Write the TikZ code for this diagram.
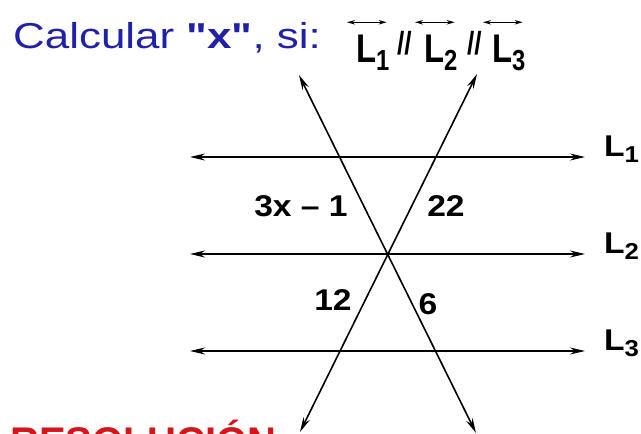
\documentclass[tikz,border=0pt]{standalone}
\usepackage{fontspec}
\setmainfont{Liberation Sans}
\newfontfamily\titulo[FakeStretch=1.22]{Liberation Sans}
\newfontfamily\rotulo[FakeStretch=1.12]{Liberation Sans}
\newfontfamily\estrecho[FakeStretch=0.82]{Liberation Sans}
\usetikzlibrary{arrows.meta,calc}

\definecolor{azultit}{RGB}{32,32,168}
\definecolor{rojores}{RGB}{210,22,28}

\newcommand{\Lsub}[1]{L\raisebox{-0.22em}{\fontsize{23}{23}\selectfont #1}}
\newcommand{\Lsup}[1]{L\raisebox{-0.2em}{\fontsize{29}{29}\selectfont #1}}

\begin{document}
\begin{tikzpicture}[x=1pt,y=-1pt,
    recta/.style={line width=1.6pt,{Stealth[length=15pt,width=7pt]}-{Stealth[length=15pt,width=7pt]}},
    flechita/.style={line width=1.1pt,{Stealth[length=8pt,width=4.5pt]}-{Stealth[length=8pt,width=4.5pt]}},
    etiq/.style={inner sep=0pt,font=\rotulo\fontsize{30}{30}\selectfont\bfseries},
    dato/.style={inner sep=0pt,anchor=base west,font=\estrecho\fontsize{40}{40}\selectfont\bfseries}]
  \useasboundingbox (0,0) rectangle (641,434);
  \clip (0,0) rectangle (641,434);

  % enunciado
  \node[anchor=base west,inner sep=0pt,text=azultit,font=\titulo\fontsize{36}{36}\selectfont] (tit) at (13,48)
    {Calcular \textbf{"x"}, si:};
  \node[dato] (p1) at (356,62) {\Lsup{1}};
  \node[dato,font=\estrecho\fontsize{32}{32}\selectfont\bfseries] (b1) at (397,54) {//};
  \node[dato] (p2) at (424,62) {\Lsup{2}};
  \node[dato,font=\estrecho\fontsize{32}{32}\selectfont\bfseries] (b2) at (467,54) {//};
  \node[dato] (p3) at (492,62) {\Lsup{3}};
  \foreach \p in {p1,p2,p3}
    \draw[flechita] ($(\p.north west)+(-9,-12)$) -- ($(\p.north east)+(-3,-12)$);

  % paralelas
  \coordinate (a1) at (190,157); \coordinate (b1r) at (585,157);
  \coordinate (a2) at (190,254); \coordinate (b2r) at (585,254);
  \coordinate (a3) at (190,351); \coordinate (b3r) at (585,351);
  \draw[recta] (a1) -- (b1r);
  \draw[recta] (a2) -- (b2r);
  \draw[recta] (a3) -- (b3r);
  \node[etiq,anchor=base west] (n1) at (604,156) {\Lsub{1}};
  \node[etiq,anchor=base west] (n2) at (604,253) {\Lsub{2}};
  \node[etiq,anchor=base west] (n3) at (604,350) {\Lsub{3}};

  % secantes
  \coordinate (s1) at (299,75);  \coordinate (t1) at (476,433);
  \coordinate (s2) at (477,74);  \coordinate (t2) at (300,432);
  \draw[recta] (s1) -- (t1);
  \draw[recta] (s2) -- (t2);

  % medidas
  \node[etiq] (m1) at (301,206) {3x – 1};
  \node[etiq] (m2) at (446,206) {22};
  \node[etiq] (m3) at (333,300) {12};
  \node[etiq] (m4) at (428,304) {6};

  \node[anchor=base west,inner sep=0pt,text=rojores,font=\fontsize{40}{40}\selectfont\bfseries] (res) at (10,455) {RESOLUCIÓN};
\end{tikzpicture}
\end{document}
